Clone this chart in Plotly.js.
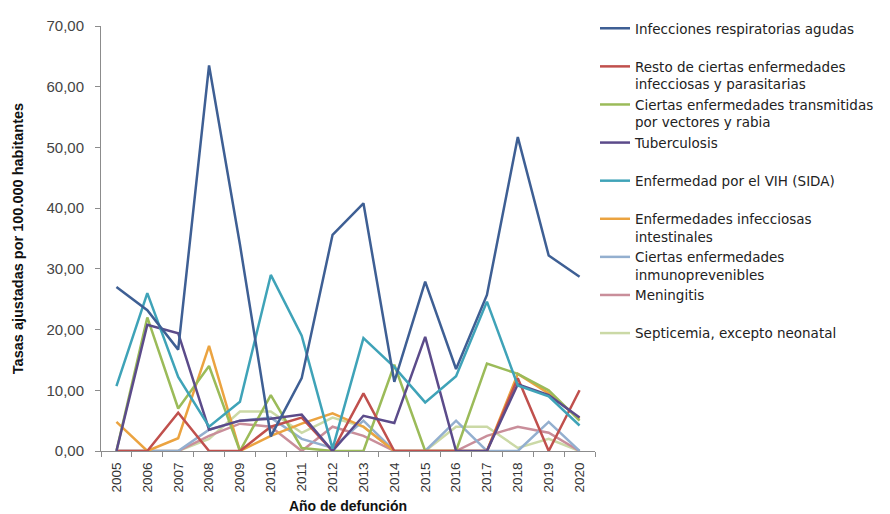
<!DOCTYPE html>
<html>
<head>
<meta charset="utf-8">
<script src="https://cdn.plot.ly/plotly-3.0.1.min.js"></script>
<style>html,body{margin:0;padding:0;background:#fff;}#chart{width:890px;height:514px;}</style>
</head>
<body>
<div id="chart"></div>
<script>
const years = ['2005','2006','2007','2008','2009','2010','2011','2012','2013','2014','2015','2016','2017','2018','2019','2020'];

const seriesNames = [
  'Infecciones respiratorias agudas',
  'Resto de ciertas enfermedades<br>infecciosas y parasitarias',
  'Ciertas enfermedades transmitidas<br>por vectores y rabia',
  'Tuberculosis',
  'Enfermedad por el VIH (SIDA)',
  'Enfermedades infecciosas<br>intestinales',
  'Ciertas enfermedades<br>inmunoprevenibles',
  'Meningitis',
  'Septicemia, excepto neonatal'
];

const respiratorias = [27.0, 23.2, 16.7, 63.5, 34.0, 2.4, 12.0, 35.6, 40.8, 11.4, 27.9, 13.5, 25.7, 51.7, 32.2, 28.7];
const restoInfecciosas = [0.0, 0.0, 6.3, 0.0, 0.0, 4.0, 5.5, 0.0, 9.5, 0.0, 0.0, 0.0, 0.0, 12.0, 0.0, 10.0];
const vectores = [0.0, 22.0, 7.0, 14.0, 0.0, 9.2, 0.5, 0.0, 0.0, 14.2, 0.0, 0.0, 14.4, 12.7, 10.0, 5.0];
const tuberculosis = [0.0, 20.8, 19.4, 3.5, 5.0, 5.3, 6.0, 0.0, 5.8, 4.6, 18.8, 0.0, 0.0, 11.0, 9.2, 5.5];
const vih = [10.7, 26.0, 12.2, 4.0, 8.1, 29.0, 19.0, 0.4, 18.6, 13.8, 8.0, 12.3, 24.6, 10.8, 9.0, 4.2];
const intestinales = [4.8, 0.0, 2.1, 17.3, 0.0, 2.5, 4.5, 6.2, 4.0, 0.0, 0.0, 0.0, 0.0, 12.7, 9.5, 5.3];
const inmunoprevenibles = [0.0, 0.0, 0.0, 3.5, 5.0, 5.5, 2.0, 0.5, 5.0, 0.0, 0.0, 5.0, 0.0, 0.0, 4.8, 0.0];
const meningitis = [0.0, 0.0, 0.0, 2.5, 4.5, 4.0, 0.0, 4.0, 2.5, 0.0, 0.0, 0.0, 2.5, 4.0, 3.0, 0.0];
const septicemia = [0.0, 0.0, 0.0, 2.0, 6.5, 6.5, 3.0, 5.5, 4.0, 0.0, 0.0, 4.0, 4.0, 0.5, 2.0, 0.0];

const seriesValues = [respiratorias, restoInfecciosas, vectores, tuberculosis, vih, intestinales, inmunoprevenibles, meningitis, septicemia];
const seriesColors = ['#3e5f94', '#c0504d', '#9bbb59', '#5b4b8a', '#3fa3b8', '#eba340', '#93afcf', '#c98e9a', '#cbd9a6'];

// draw order: small/light ones first so the main lines stay on top
const drawOrder = [8, 7, 6, 5, 2, 1, 3, 4, 0];
const traces = drawOrder.map(i => ({
  type: 'scatter',
  mode: 'lines',
  x: years,
  y: seriesValues[i],
  name: seriesNames[i].indexOf('<br>') >= 0 ? seriesNames[i] : seriesNames[i] + '<br> ',
  legendrank: i + 1,
  line: {color: seriesColors[i], width: 2.5},
  hoverinfo: 'x+y+name'
}));

const layout = {
  width: 890,
  height: 514,
  margin: {l: 101, r: 284, t: 26, b: 63},
  paper_bgcolor: '#ffffff',
  plot_bgcolor: '#ffffff',
  separators: ',.',
  font: {family: 'Liberation Sans, Arial, sans-serif', color: '#333'},
  showlegend: true,
  legend: {
    xref: 'container', yref: 'container',
    x: 595 / 890, y: 1 - 13 / 514,
    xanchor: 'left', yanchor: 'top',
    valign: 'top',
    traceorder: 'normal',
    itemwidth: 30,
    maxheight: 500,
    font: {family: 'DejaVu Sans, Liberation Sans, sans-serif', size: 13.5, color: '#222'},
    bgcolor: 'rgba(0,0,0,0)'
  },
  xaxis: {
    type: 'category',
    range: [-0.5, 15.5],
    tickangle: -90,
    ticks: 'outside',
    tickson: 'boundaries',
    ticklen: 5,
    tickcolor: '#8c8c8c',
    ticklabelstandoff: 5,
    showline: true,
    linecolor: '#8c8c8c',
    linewidth: 1,
    showgrid: false,
    tickfont: {family: 'Liberation Sans, Arial, sans-serif', size: 13.5, color: '#333'},
    title: {text: 'Año de defunción', standoff: 10, font: {family: 'Liberation Sans, Arial, sans-serif', size: 14, weight: 'bold', color: '#111'}},
    automargin: false
  },
  yaxis: {
    range: [0, 70],
    dtick: 10,
    tick0: 0,
    tickformat: '.2f',
    ticks: 'outside',
    ticklen: 5,
    tickcolor: '#8c8c8c',
    ticklabelstandoff: 8,
    showline: true,
    linecolor: '#8c8c8c',
    linewidth: 1,
    showgrid: false,
    zeroline: false,
    tickfont: {family: 'Liberation Sans, Arial, sans-serif', size: 15, color: '#444'},
    title: {text: 'Tasas ajustadas por 100.000 habitantes', standoff: 19, font: {family: 'Liberation Sans, Arial, sans-serif', size: 14.5, weight: 'bold', color: '#111'}},
    automargin: false
  }
};

Plotly.newPlot('chart', traces, layout, {displayModeBar: false, staticPlot: true});
</script>
</body>
</html>
